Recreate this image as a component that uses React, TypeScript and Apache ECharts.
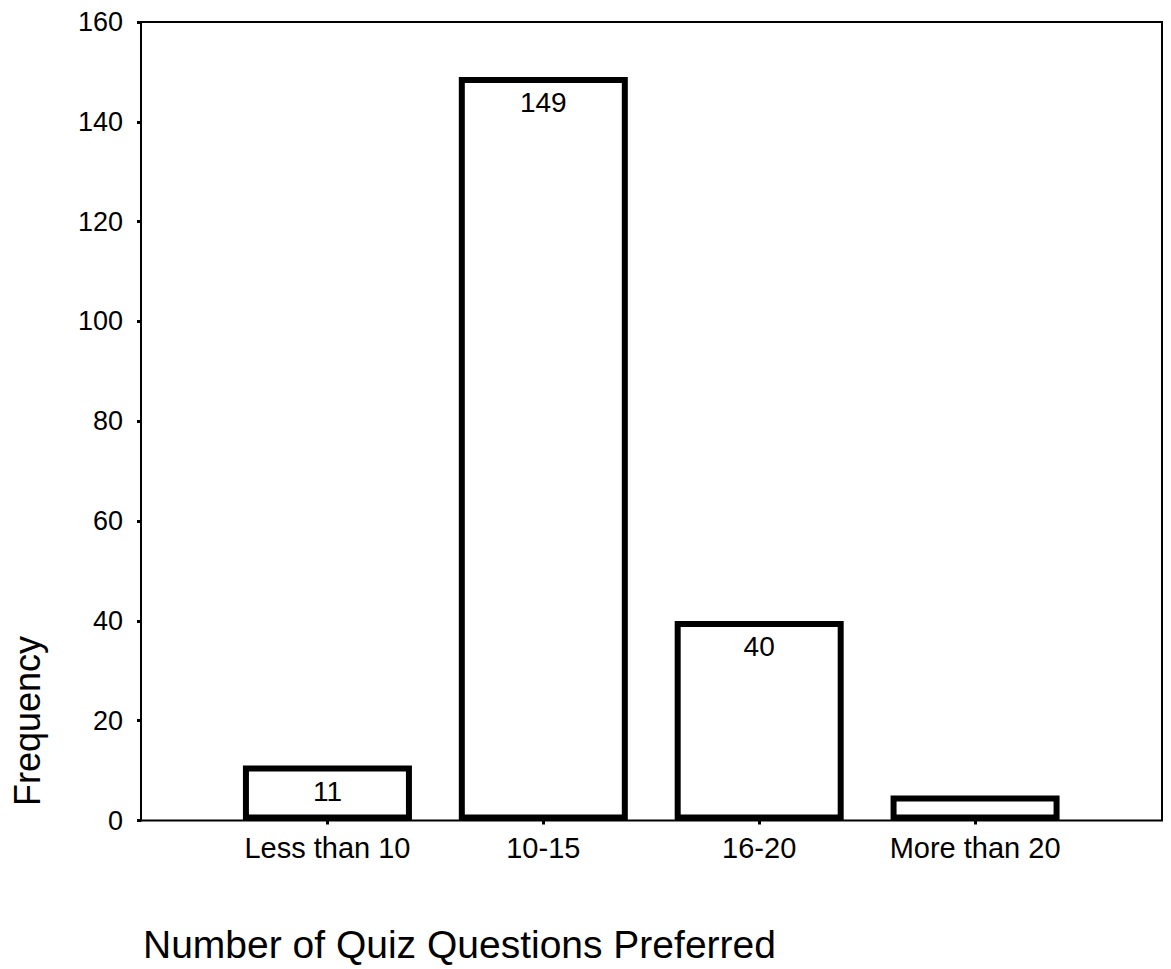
import React, { useEffect, useRef } from "react";
import * as echarts from "echarts";

const categories = ["Less than 10", "10-15", "16-20", "More than 20"];
const frequencies = [11, 149, 40, 5];
const labelVisible = [true, true, true, false];
const yTicks = { min: 0, max: 160, interval: 20 };
const xTitle = "Number of Quiz Questions Preferred";
const yTitle = "Frequency";

const FONT = "'Liberation Sans', Arial, Helvetica, sans-serif";

export default function App() {
  const ref = useRef<HTMLDivElement>(null);
  useEffect(() => {
    document.body.style.margin = "0";
    if (!ref.current) return;
    const chart = echarts.init(ref.current, undefined, { renderer: "svg" });
    const frameLeft = 141;
    const frameRight = 1162;
    const frameTop = 22;
    const frameBottom = 820.5;
    const gridLeft = 219.5;
    const gridRight = 88;
    chart.setOption({
      animation: false,
      backgroundColor: "#ffffff",
      textStyle: { fontFamily: FONT },
      grid: {
        left: gridLeft,
        right: gridRight,
        top: frameTop,
        bottom: 969 - frameBottom,
        containLabel: false,
      },
      xAxis: {
        type: "category",
        data: categories,
        axisLine: { show: false },
        axisTick: {
          show: true,
          interval: 0,
          alignWithLabel: true,
          length: 4,
          lineStyle: { color: "#000", width: 3 },
        },
        axisLabel: {
          interval: 0,
          color: "#000",
          fontSize: 29,
          margin: 13,
          fontFamily: FONT,
        },
        splitLine: { show: false },
      },
      yAxis: {
        type: "value",
        min: yTicks.min,
        max: yTicks.max,
        interval: yTicks.interval,
        offset: gridLeft - frameLeft,
        axisLine: { show: true, lineStyle: { color: "#000", width: 2 } },
        axisTick: { show: true, length: 4, lineStyle: { color: "#000", width: 3 } },
        axisLabel: { color: "#000", fontSize: 27, margin: 18, fontFamily: FONT },
        splitLine: { show: false },
      },
      graphic: [
        {
          type: "rect",
          z: 0,
          silent: true,
          shape: {
            x: frameLeft,
            y: frameTop,
            width: frameRight - frameLeft,
            height: frameBottom - frameTop,
          },
          style: { fill: "none", stroke: "#000", lineWidth: 2 },
        },
        {
          type: "text",
          x: 143,
          y: 944,
          style: {
            text: xTitle,
            fontSize: 39,
            fontFamily: FONT,
            fill: "#000",
            textAlign: "left",
            textVerticalAlign: "middle",
          },
        },
        {
          type: "text",
          x: 27,
          y: 721,
          rotation: Math.PI / 2,
          style: {
            text: yTitle,
            fontSize: 36,
            fontFamily: FONT,
            fill: "#000",
            textAlign: "center",
            textVerticalAlign: "middle",
          },
        },
      ],
      series: [
        {
          type: "bar",
          barWidth: 169,
          z: 3,
          data: frequencies.map((v, i) => ({
            value: v,
            label: { show: labelVisible[i] },
          })),
          itemStyle: { color: "#ffffff", borderColor: "#000", borderWidth: 6 },
          label: {
            show: true,
            position: "insideTop",
            distance: 12,
            color: "#000",
            fontSize: 28,
            fontFamily: FONT,
          },
        },
      ],
    });
    return () => chart.dispose();
  }, []);
  return <div ref={ref} style={{ width: 1171, height: 969 }} />;
}
